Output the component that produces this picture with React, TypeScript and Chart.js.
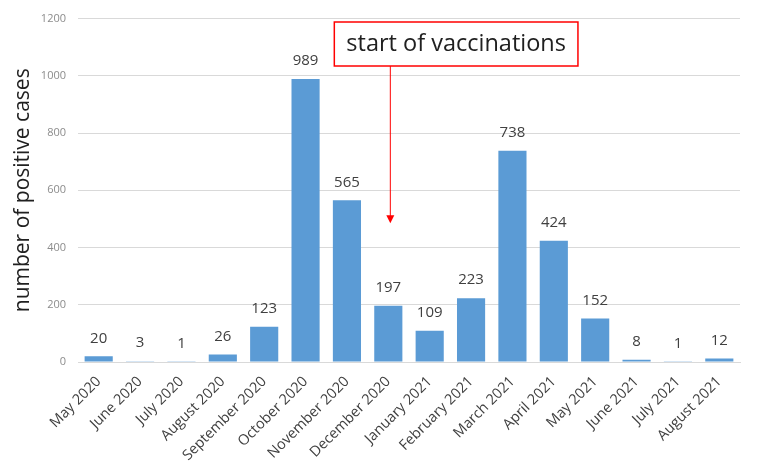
import React, { useEffect, useRef } from "react";
import { Chart, registerables } from "chart.js";

Chart.register(...registerables);

const months = [
  "May 2020", "June 2020", "July 2020", "August 2020", "September 2020",
  "October 2020", "November 2020", "December 2020", "January 2021",
  "February 2021", "March 2021", "April 2021", "May 2021", "June 2021",
  "July 2021", "August 2021",
];
const positiveCases = [20, 3, 1, 26, 123, 989, 565, 197, 109, 223, 738, 424, 152, 8, 1, 12];
const yTicks = [0, 200, 400, 600, 800, 1000, 1200];
const annotationText = "start of vaccinations";
const annotationMonthIndex = 7;
const annotationArrowValue = 485;

const dataLabelPlugin = {
  id: "dataLabels",
  afterDatasetsDraw(chart: any) {
    const ctx = chart.ctx;
    const meta = chart.getDatasetMeta(0);
    ctx.save();
    ctx.font = '15px "Open Sans", "Noto Sans", sans-serif';
    ctx.fillStyle = "#404040";
    ctx.textAlign = "center";
    ctx.textBaseline = "middle";
    meta.data.forEach((bar: any, i: number) => {
      ctx.fillText(String(positiveCases[i]), bar.x, bar.y - 18);
    });
    ctx.restore();
  },
};

const annotationPlugin = {
  id: "vaccAnnotation",
  afterDraw(chart: any) {
    const ctx = chart.ctx;
    const xs = chart.scales.x;
    const ys = chart.scales.y;
    const ax = xs.getPixelForValue(annotationMonthIndex) + 2;
    const ay = ys.getPixelForValue(annotationArrowValue);
    ctx.save();
    ctx.font = '23.5px "Open Sans", "Noto Sans", sans-serif';
    const tw = ctx.measureText(annotationText).width;
    const bw = tw + 24;
    const bh = 44;
    const bx = ax - 56;
    const by = 22;
    ctx.fillStyle = "#ffffff";
    ctx.fillRect(bx, by, bw, bh);
    ctx.strokeStyle = "#ff0000";
    ctx.lineWidth = 1.5;
    ctx.strokeRect(bx, by, bw, bh);
    ctx.fillStyle = "#202020";
    ctx.textAlign = "left";
    ctx.textBaseline = "middle";
    ctx.fillText(annotationText, bx + 12, by + bh / 2);
    ctx.strokeStyle = "#ff0000";
    ctx.lineWidth = 1;
    ctx.beginPath();
    ctx.moveTo(ax, by + bh);
    ctx.lineTo(ax, ay - 6);
    ctx.stroke();
    ctx.fillStyle = "#ff0000";
    ctx.beginPath();
    ctx.moveTo(ax - 4, ay - 8);
    ctx.lineTo(ax + 4, ay - 8);
    ctx.lineTo(ax, ay);
    ctx.closePath();
    ctx.fill();
    ctx.restore();
  },
};

export default function App() {
  const canvasRef = useRef<HTMLCanvasElement | null>(null);

  useEffect(() => {
    document.body.style.margin = "0";
    const canvas = canvasRef.current;
    if (!canvas) return;
    const chart = new Chart(canvas, {
      type: "bar",
      data: {
        labels: months,
        datasets: [
          {
            data: positiveCases,
            backgroundColor: "#5b9bd5",
            barPercentage: 0.68,
            categoryPercentage: 1,
          },
        ],
      },
      options: {
        animation: false,
        responsive: false,
        maintainAspectRatio: false,
        layout: { padding: { top: 8, right: 18, left: 10, bottom: 0 } },
        plugins: {
          legend: { display: false },
          tooltip: { enabled: false },
        },
        scales: {
          x: {
            grid: { display: false, drawTicks: false },
            border: { display: true, color: "#d9d9d9" },
            ticks: {
              minRotation: 45,
              maxRotation: 45,
              autoSkip: false,
              padding: 11,
              color: "#404040",
              font: { family: '"Open Sans", "Noto Sans", sans-serif', size: 14.5 },
            },
            afterFit(scale: any) {
              scale.height = 110;
            },
          },
          y: {
            min: 0,
            max: 1200,
            afterBuildTicks(scale: any) {
              scale.ticks = yTicks.map((v) => ({ value: v }));
            },
            grid: { color: "#d9d9d9", drawTicks: false },
            border: { display: false },
            ticks: {
              padding: 12,
              color: "#8c8c8c",
              callback: (v: any) => String(v),
              font: { family: '"Open Sans", "Noto Sans", sans-serif', size: 11 },
            },
            title: {
              display: true,
              text: "number of positive cases",
              color: "#202020",
              padding: { top: 0, bottom: 4 },
              font: { family: '"Open Sans", "Noto Sans", sans-serif', size: 21 },
            },
            afterFit(scale: any) {
              scale.width = 68;
            },
          },
        },
      },
      plugins: [dataLabelPlugin, annotationPlugin],
    });
    return () => chart.destroy();
  }, []);

  return (
    <div style={{ position: "relative", width: 758, height: 472, background: "#fff" }}>
      <canvas ref={canvasRef} width={758} height={472} style={{ display: "block" }} />
    </div>
  );
}
